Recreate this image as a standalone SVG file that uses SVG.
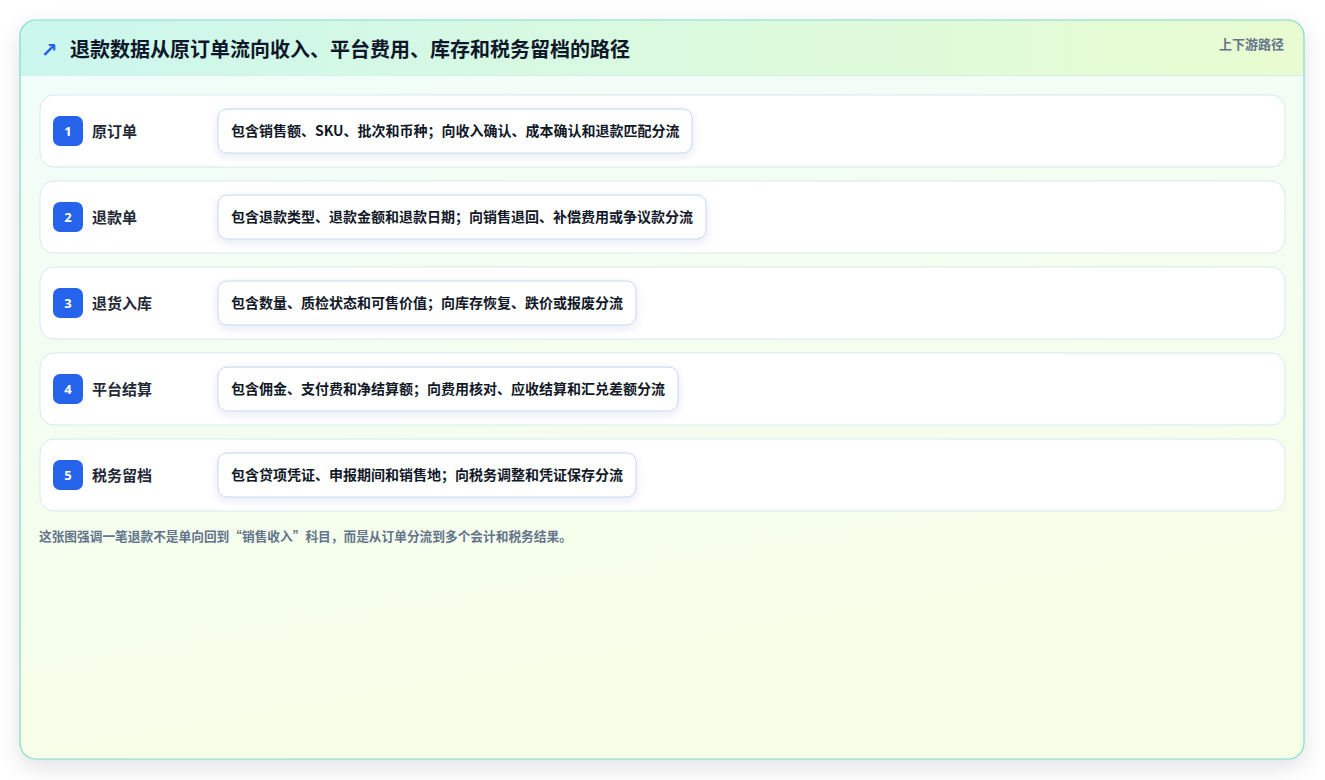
<svg xmlns="http://www.w3.org/2000/svg" width="1325" height="780" viewBox="0 0 1325 780">
<defs>
<linearGradient id="hdr" x1="0" y1="0" x2="1" y2="0">
<stop offset="0" stop-color="#cbf7ee"/>
<stop offset="1" stop-color="#e9fcd0"/>
</linearGradient>
<linearGradient id="body" x1="0" y1="0" x2="0.3" y2="1">
<stop offset="0" stop-color="#f0fdfa"/>
<stop offset="1" stop-color="#f7fee7"/>
</linearGradient>
<filter id="cardsh" x="-5%" y="-5%" width="110%" height="112%">
<feDropShadow dx="0" dy="8" stdDeviation="11" flood-color="#0f172a" flood-opacity="0.12"/>
</filter>
<filter id="pillsh" x="-10%" y="-30%" width="120%" height="170%">
<feDropShadow dx="0" dy="3" stdDeviation="4" flood-color="#1e3a8a" flood-opacity="0.10"/>
</filter>
<clipPath id="cardclip"><rect x="20" y="20" width="1284" height="739" rx="16"/></clipPath>
</defs>
<style>
.row{fill:#ffffff;stroke:#d7e9ef;stroke-width:1}
.badge{fill:#2563eb}
.num{font-family:"Noto Sans","Noto Sans CJK SC",sans-serif;font-size:13px;font-weight:700;fill:#ffffff;text-anchor:middle}
.lbl{font-family:"Noto Sans CJK SC",sans-serif;font-size:15px;font-weight:600;fill:#1f2937}
.pill{fill:#ffffff;stroke:#c4d6ef;stroke-width:1}
.ptxt{font-family:"Noto Sans CJK SC",sans-serif;font-size:14px;font-weight:700;fill:#111827}
</style>
<rect width="1325" height="780" fill="#ffffff"/>
<g id="card">
<rect x="20" y="20" width="1284" height="739" rx="16" fill="url(#body)" filter="url(#cardsh)"/>
<g clip-path="url(#cardclip)">
<rect x="20" y="20" width="1284" height="55" fill="url(#hdr)"/>
<line x1="20" y1="75.5" x2="1304" y2="75.5" stroke="#d5f1ea" stroke-width="1"/>
</g>
<rect x="20" y="20" width="1284" height="739" rx="16" fill="none" stroke="#7fdccb" stroke-width="1.2"/>
<text x="41" y="57" font-family="DejaVu Sans,sans-serif" font-size="20" font-weight="700" fill="#2563eb">↗</text>
<text x="70" y="57" font-family="Noto Sans CJK SC,sans-serif" font-size="20" font-weight="700" fill="#0f172a">退款数据从原订单流向收入、平台费用、库存和税务留档的路径</text>
<text x="1284" y="49" text-anchor="end" font-family="Noto Sans CJK SC,sans-serif" font-size="13" font-weight="700" fill="#64748b">上下游路径</text>
</g>
<g id="connectors"></g>
<g id="node1">
<rect class="row" x="40" y="95" width="1245" height="72" rx="14"/>
<rect class="badge" x="53" y="116" width="30" height="30" rx="7"/>
<text class="num" x="68" y="136">1</text>
<text class="lbl" x="92" y="137">原订单</text>
<rect class="pill" x="218" y="109" width="474" height="44" rx="9" filter="url(#pillsh)"/>
<text class="ptxt" x="231" y="136">包含销售额、SKU、批次和币种；向收入确认、成本确认和退款匹配分流</text>
</g>
<g id="node2">
<rect class="row" x="40" y="181" width="1245" height="72" rx="14"/>
<rect class="badge" x="53" y="202" width="30" height="30" rx="7"/>
<text class="num" x="68" y="222">2</text>
<text class="lbl" x="92" y="223">退款单</text>
<rect class="pill" x="218" y="195" width="488" height="44" rx="9" filter="url(#pillsh)"/>
<text class="ptxt" x="231" y="222">包含退款类型、退款金额和退款日期；向销售退回、补偿费用或争议款分流</text>
</g>
<g id="node3">
<rect class="row" x="40" y="267" width="1245" height="72" rx="14"/>
<rect class="badge" x="53" y="288" width="30" height="30" rx="7"/>
<text class="num" x="68" y="308">3</text>
<text class="lbl" x="92" y="309">退货入库</text>
<rect class="pill" x="218" y="281" width="418" height="44" rx="9" filter="url(#pillsh)"/>
<text class="ptxt" x="231" y="308">包含数量、质检状态和可售价值；向库存恢复、跌价或报废分流</text>
</g>
<g id="node4">
<rect class="row" x="40" y="353" width="1245" height="72" rx="14"/>
<rect class="badge" x="53" y="374" width="30" height="30" rx="7"/>
<text class="num" x="68" y="394">4</text>
<text class="lbl" x="92" y="395">平台结算</text>
<rect class="pill" x="218" y="367" width="460" height="44" rx="9" filter="url(#pillsh)"/>
<text class="ptxt" x="231" y="394">包含佣金、支付费和净结算额；向费用核对、应收结算和汇兑差额分流</text>
</g>
<g id="node5">
<rect class="row" x="40" y="439" width="1245" height="72" rx="14"/>
<rect class="badge" x="53" y="460" width="30" height="30" rx="7"/>
<text class="num" x="68" y="480">5</text>
<text class="lbl" x="92" y="481">税务留档</text>
<rect class="pill" x="218" y="453" width="418" height="44" rx="9" filter="url(#pillsh)"/>
<text class="ptxt" x="231" y="480">包含贷项凭证、申报期间和销售地；向税务调整和凭证保存分流</text>
</g>
<g id="note">
<text x="39" y="541" font-family="Noto Sans CJK SC,sans-serif" font-size="12.7" font-weight="700" fill="#64748b">这张图强调一笔退款不是单向回到“销售收入”科目，而是从订单分流到多个会计和税务结果。</text>
</g>
</svg>
